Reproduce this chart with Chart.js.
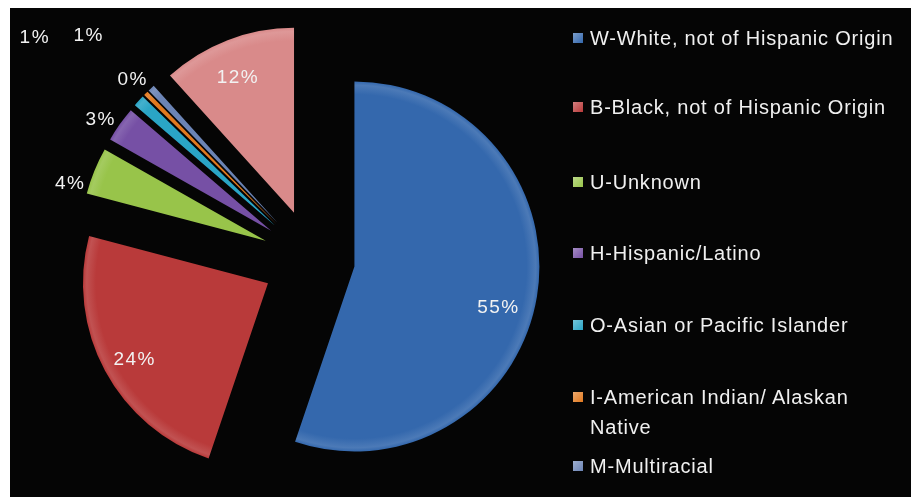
<!DOCTYPE html>
<html lang="en">
<head>
    <meta charset="UTF-8">
    <title>Race / Ethnicity</title>
    <script src="https://cdn.jsdelivr.net/npm/chart.js"></script>
    <style>
        body { margin: 0; width: 915px; height: 497px; background: #fff; overflow: hidden;
               font-family: "Liberation Sans", Arial, sans-serif; }
        .painel { position: absolute; left: 10px; top: 8px; width: 901px; height: 489px; background: #050505; }
        #grafico { position: absolute; left: 10px; top: 8px; }
        .item { position: absolute; left: 590px; width: 312px; color: #f0f0f0; font-size: 20px;
                line-height: 30px; letter-spacing: 0.8px; }
        .quadrado { position: absolute; left: -17px; top: 10px; width: 10px; height: 10px; }
    </style>
</head>
<body>
    <div class="painel"></div>
    <canvas id="grafico" width="604" height="489"></canvas>
    <div id="legenda"></div>

<script>
    // dados
    const categorias = [
        'W-White, not of Hispanic Origin',
        'B-Black, not of Hispanic Origin',
        'U-Unknown',
        'H-Hispanic/Latino',
        'O-Asian or Pacific Islander',
        'I-American Indian/ Alaskan Native',
        'M-Multiracial',
        ''   // fatia rosa, sem entrada na legenda
    ];
    const valores = [55.2, 23.9, 4.1, 3.1, 1.0, 0.4, 0.6, 11.7];

    // estilo
    const cores = ['#3468ad', '#b93a3a', '#98c44a', '#7650a5', '#2aa5c6', '#e2791f', '#6b84b5', '#d98a8a'];
    const explosao = [43, 50, 50, 50, 50, 50, 50, 50];
    const rotuloDist = [0.81, 0.83, 1.10, 1.10, 1.65, 1.10, 1.44, 0.79];
    const rotuloGiro = [6.7, -1.5, -6, -2, -4.4, 0, -2, -1.5];
    const legendaCentro = [38, 107, 182, 253, 325, 412, 466];
    const RAIO = 185;

    function clarear(hex, t) {
        const n = parseInt(hex.slice(1), 16);
        const r = (n >> 16) & 255, g = (n >> 8) & 255, b = n & 255;
        const m = c => Math.round(c + (255 - c) * t);
        return `rgb(${m(r)},${m(g)},${m(b)})`;
    }

    function preenchimento(context) {
        const base = cores[context.dataIndex];
        const area = context.chart.chartArea;
        if (!area) return base;
        const cx = (area.left + area.right) / 2;
        const cy = (area.top + area.bottom) / 2;
        const g = context.chart.ctx.createRadialGradient(cx, cy, 0, cx, cy, RAIO);
        g.addColorStop(0, base);
        g.addColorStop(0.93, base);
        g.addColorStop(0.98, clarear(base, 0.12));
        g.addColorStop(1, base);
        return g;
    }

    // desenha cada fatia deslocada pelo seu proprio valor de explosao
    const fatiasExplodidas = {
        id: 'fatiasExplodidas',
        beforeDatasetsDraw(chart) {
            const ctx = chart.ctx;
            chart.getDatasetMeta(0).data.forEach(function (arc, i) {
                const meio = (arc.startAngle + arc.endAngle) / 2;
                ctx.save();
                ctx.translate(Math.cos(meio) * explosao[i], Math.sin(meio) * explosao[i]);
                arc.draw(ctx);
                ctx.restore();
            });
            return false;
        },
        afterDraw(chart) {
            const ctx = chart.ctx;
            const total = valores.reduce((a, b) => a + b, 0);
            ctx.save();
            ctx.font = '19px "Liberation Sans", Arial, sans-serif';
            ctx.letterSpacing = '1.5px';
            ctx.fillStyle = '#f2f2f2';
            ctx.textAlign = 'center';
            ctx.textBaseline = 'middle';
            chart.getDatasetMeta(0).data.forEach(function (arc, i) {
                const meio = (arc.startAngle + arc.endAngle) / 2;
                const vx = arc.x + Math.cos(meio) * explosao[i];
                const vy = arc.y + Math.sin(meio) * explosao[i];
                const a = meio + rotuloGiro[i] * Math.PI / 180;
                const d = rotuloDist[i] * arc.outerRadius;
                ctx.fillText(Math.round(valores[i] / total * 100) + '%', vx + Math.cos(a) * d, vy + Math.sin(a) * d);
            });
            ctx.restore();
        }
    };

    new Chart(document.getElementById('grafico'), {
        type: 'pie',
        data: {
            labels: categorias,
            datasets: [{
                data: valores,
                backgroundColor: preenchimento,
                borderWidth: 0
            }]
        },
        options: {
            responsive: false,
            animation: false,
            radius: RAIO,
            layout: { padding: { top: 14 } },
            plugins: { legend: { display: false }, tooltip: { enabled: false } }
        },
        plugins: [fatiasExplodidas]
    });

    // legenda em html
    const legenda = document.getElementById('legenda');
    let j = 0;
    categorias.forEach(function (nome, i) {
        if (!nome) return;
        const linhas = nome.indexOf('Alaskan') >= 0 ? 2 : 1;
        const item = document.createElement('div');
        item.className = 'item';
        item.style.top = (legendaCentro[j] - 15 * linhas) + 'px';
        const q = document.createElement('span');
        q.className = 'quadrado';
        q.style.background = `linear-gradient(135deg, ${clarear(cores[i], 0.35)}, ${cores[i]})`;
        item.appendChild(q);
        item.appendChild(document.createTextNode(nome));
        legenda.appendChild(item);
        j++;
    });
</script>
</body>
</html>
